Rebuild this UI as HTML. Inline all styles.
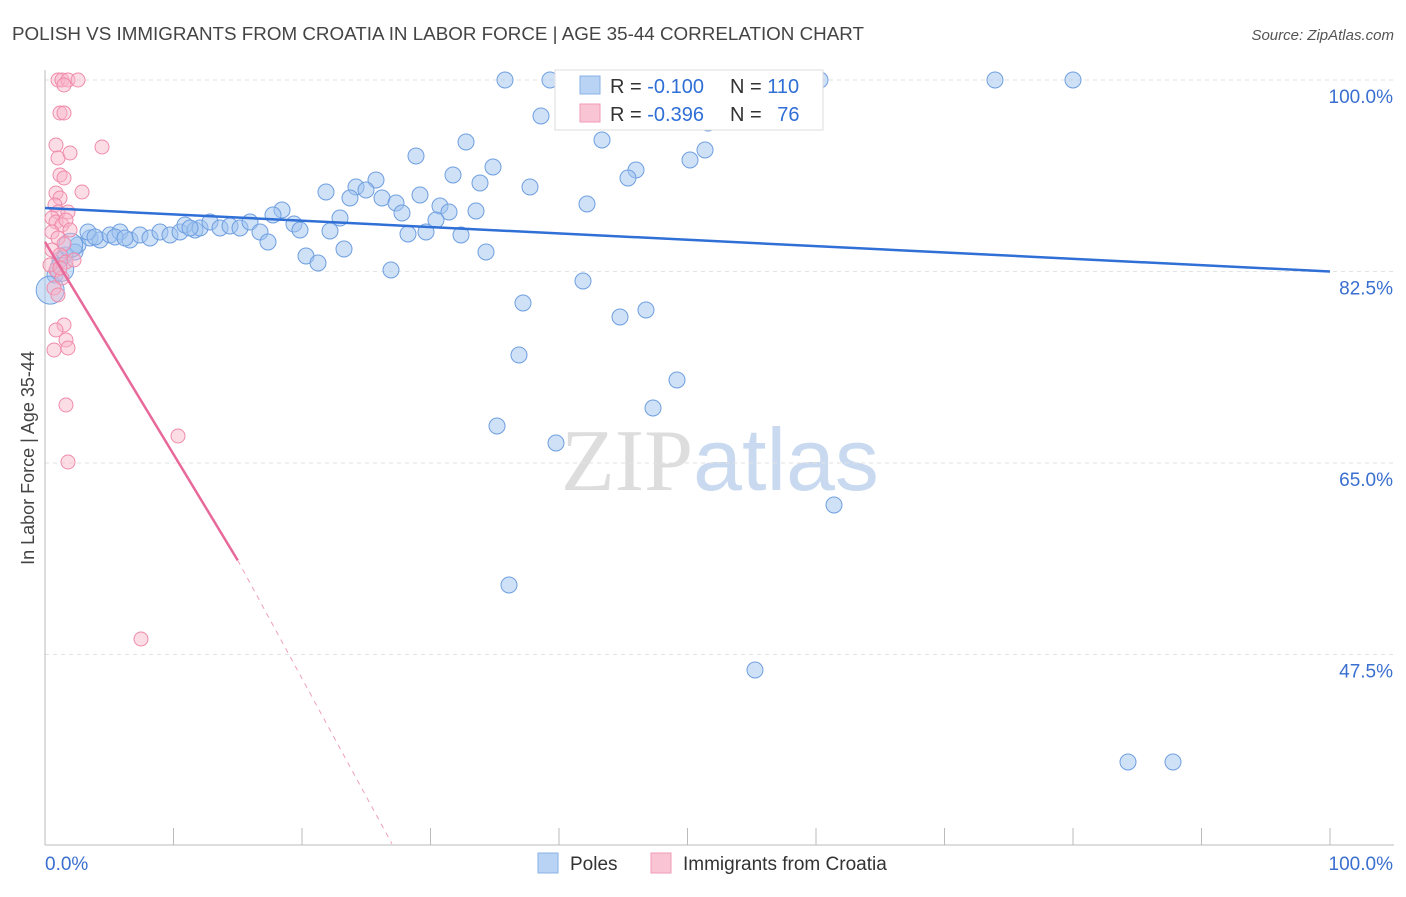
<!DOCTYPE html>
<html><head><meta charset="utf-8"><style>
body{margin:0;background:#fff;font-family:"Liberation Sans",sans-serif}
svg text{font-family:"Liberation Sans",sans-serif}
</style></head><body>
<svg id="chart" width="1406" height="892" xmlns="http://www.w3.org/2000/svg">
<text x="12" y="40" font-size="18" fill="#444" textLength="852" lengthAdjust="spacingAndGlyphs">POLISH VS IMMIGRANTS FROM CROATIA IN LABOR FORCE | AGE 35-44 CORRELATION CHART</text>
<text x="1394" y="40" font-size="15" fill="#555" text-anchor="end" font-style="italic">Source: ZipAtlas.com</text>
<text x="720" y="490" font-size="88" text-anchor="middle"><tspan fill="#ddd" font-family="Liberation Serif">ZIP</tspan><tspan fill="#c9daf0">atlas</tspan></text>
<g id="grid"></g>
<g id="axes"></g>
<g id="pts"></g>
<g id="trend"></g>
<text transform="translate(34,458) rotate(-90)" font-size="18" fill="#444" text-anchor="middle">In Labor Force | Age 35-44</text>
<g>
<rect x="555" y="70" width="268" height="60" fill="#fff" stroke="#ddd"/>
<rect x="580" y="76" width="20" height="18" fill="#b9d3f5" stroke="#8ab0e6"/>
<rect x="580" y="104" width="20" height="18" fill="#f9c5d5" stroke="#f09ab5"/>
<text x="610" y="93" font-size="20" fill="#333">R = <tspan fill="#2f6fd6">-0.100</tspan></text>
<text x="730" y="93" font-size="20" fill="#333">N = <tspan fill="#2f6fd6">110</tspan></text>
<text x="610" y="121" font-size="20" fill="#333">R = <tspan fill="#2f6fd6">-0.396</tspan></text>
<text x="730" y="121" font-size="20" fill="#333">N = <tspan fill="#2f6fd6" dx="10">76</tspan></text>
</g>
<g>
<rect x="538" y="853" width="20" height="20" fill="#b9d3f5" stroke="#8ab0e6"/>
<text x="570" y="870" font-size="19" fill="#333">Poles</text>
<rect x="651" y="853" width="20" height="20" fill="#f9c5d5" stroke="#f09ab5"/>
<text x="683" y="870" font-size="19" fill="#333">Immigrants from Croatia</text>
</g>
</svg>
<script>
const yTicks=[100,82.5,65,47.5];
const xTickLabels=["0.0%","100.0%"];
const bluePx=[[505,80],[550,80],[578,80],[640,80],[730,80],[745,80],[765,80],[820,80],[995,80],[1073,80],[541,116],[602,140],[466,142],[416,156],[705,150],[690,160],[493,167],[636,170],[628,178],[453,175],[480,183],[376,180],[530,187],[326,192],[356,187],[366,190],[350,198],[382,198],[396,203],[420,195],[440,206],[449,212],[402,213],[436,220],[476,211],[587,204],[340,218],[282,210],[273,215],[294,224],[300,230],[330,231],[408,234],[426,232],[461,235],[486,252],[344,249],[306,256],[318,263],[391,270],[583,281],[523,303],[620,317],[646,310],[519,355],[677,380],[653,408],[497,426],[556,443],[834,505],[509,585],[755,670],[1128,762],[1173,762],[708,123],[55,275],[60,260],[78,245],[90,238],[100,240],[110,235],[120,232],[130,240],[140,235],[150,238],[160,232],[170,235],[180,232],[185,225],[195,230],[200,228],[210,222],[220,228],[230,226],[240,228],[250,222],[260,232],[268,242],[190,228],[88,232],[95,237],[115,237],[125,238],[75,252],[65,255]];
const pinkPx=[[58,80],[62,80],[68,80],[78,80],[64,85],[60,113],[64,113],[56,145],[102,147],[58,158],[70,153],[60,175],[64,178],[82,192],[56,193],[60,198],[55,205],[58,212],[68,212],[52,218],[56,222],[62,225],[66,220],[52,232],[58,238],[64,244],[52,250],[60,255],[66,262],[56,270],[62,278],[54,288],[58,295],[64,325],[56,330],[66,340],[54,350],[68,348],[66,405],[68,462],[178,436],[141,639],[70,230],[74,260],[50,265],[60,268]];
const blueX=bluePx.map(p=>(p[0]-45)/12.85), blueY=bluePx.map(p=>100-(p[1]-80)/10.943);
const pinkX=pinkPx.map(p=>(p[0]-45)/12.85), pinkY=pinkPx.map(p=>100-(p[1]-80)/10.943);
const bigBlueX=[0.4,1.3,2.0], bigBlueY=[80.8,82.7,84.9], bigBlueR=[14,12,12];
const blueTrend=[[0,88.3],[100,82.5]];
const pinkTrend=[[0,85.2],[15,56.1]], pinkDash=[[15,56.1],[27,30.2]];
const X=v=>45+v*12.85, Y=v=>80+(100-v)*10.943;
const NS="http://www.w3.org/2000/svg";
function mk(t,a,parent){const e=document.createElementNS(NS,t);for(const k in a)e.setAttribute(k,a[k]);document.getElementById(parent).appendChild(e);return e;}
yTicks.forEach(v=>{
 const l=mk('line',{x1:45,x2:1394,y1:Y(v),y2:Y(v),stroke:'#e2e2e2','stroke-dasharray':'4,4'},'grid');
 
 
 const t=mk('text',{x:1393,y:Y(v)+23,'font-size':19,fill:'#3a6fd0','text-anchor':'end'},'grid');
 t.textContent=v.toFixed(1)+'%';
 
 
});
mk('line',{x1:45,x2:1394,y1:845,y2:845,stroke:'#bbb'},'axes');
mk('line',{x1:45,x2:45,y1:70,y2:845,stroke:'#bbb'},'axes');
for(let i=0;i<=10;i++){const t=mk('line',{x1:X(i*10),x2:X(i*10),y1:828,y2:845,stroke:'#bbb'},'axes');
 
 }
const xl0=mk('text',{x:45,y:870,'font-size':19,fill:'#3a6fd0'},'axes');xl0.textContent=xTickLabels[0];


const xl1=mk('text',{x:1393,y:870,'font-size':19,fill:'#3a6fd0','text-anchor':'end'},'axes');xl1.textContent=xTickLabels[1];


blueX.forEach((x,i)=>{const c=mk('circle',{cx:X(x),cy:Y(blueY[i]),r:8,fill:'rgba(160,195,240,0.5)',stroke:'#6f9fe0','stroke-width':1},'pts');
 
 });
bigBlueX.forEach((x,i)=>{const c=mk('circle',{cx:X(x),cy:Y(bigBlueY[i]),r:bigBlueR[i],fill:'rgba(160,195,240,0.5)',stroke:'#6f9fe0'},'pts');
 
 });
pinkX.forEach((x,i)=>{const c=mk('circle',{cx:X(x),cy:Y(pinkY[i]),r:7,fill:'rgba(248,180,200,0.45)',stroke:'#f08aaa','stroke-width':1},'pts');
 
 });
const bt=mk('line',{x1:X(blueTrend[0][0]),y1:Y(blueTrend[0][1]),x2:X(blueTrend[1][0]),y2:Y(blueTrend[1][1]),stroke:'#2f6fd6','stroke-width':2.5},'trend');


const pt=mk('line',{x1:X(pinkTrend[0][0]),y1:Y(pinkTrend[0][1]),x2:X(pinkTrend[1][0]),y2:Y(pinkTrend[1][1]),stroke:'#e8689a','stroke-width':2.5},'trend');


const pd=mk('line',{x1:X(pinkDash[0][0]),y1:Y(pinkDash[0][1]),x2:X(pinkDash[1][0]),y2:Y(pinkDash[1][1]),stroke:'#f0a0bd','stroke-width':1,'stroke-dasharray':'5,5'},'trend');


</script>
</body></html>
